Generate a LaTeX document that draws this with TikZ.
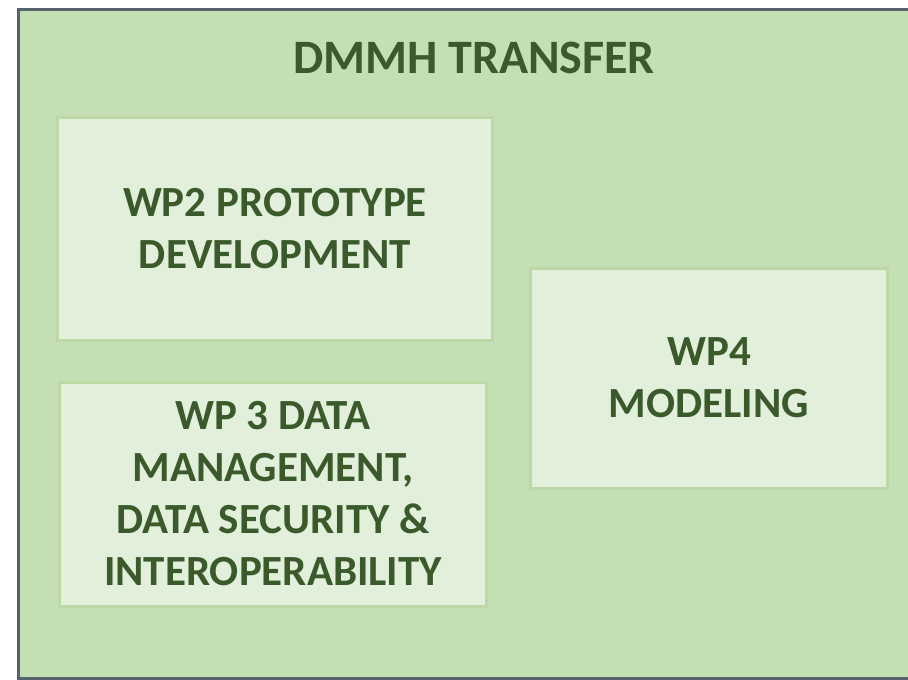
\documentclass[tikz,border=0pt]{standalone}
\usepackage{fontspec}
\setmainfont{Carlito}
\definecolor{outerfill}{HTML}{C5DFB4}
\definecolor{innerfill}{HTML}{E2EFDA}
\definecolor{innerline}{HTML}{BCD8A6}
\definecolor{frameline}{HTML}{56636F}
\definecolor{txt}{HTML}{3B5A2C}
\tikzset{
  wpbox/.style={draw=innerline, line width=3pt, fill=innerfill, inner sep=0pt,
    text=txt, font=\bfseries\fontsize{43}{52}\selectfont, align=center},
}
\begin{document}
\begin{tikzpicture}[x=1pt,y=-1pt]
\useasboundingbox (0,0) rectangle (908,680);
\fill[white] (0,0) rectangle (908,680);
\node[draw=frameline, line width=3pt, fill=outerfill, minimum width=900pt, minimum height=669pt, inner sep=0pt, anchor=north west] (frame) at (17,8) {};
\node[text=txt, font=\bfseries\fontsize{48}{56}\selectfont] (title) at (474,58) {DMMH TRANSFER};
\node[wpbox, minimum width=435pt, minimum height=223pt] (wp2) at (275,229) {WP2 PROTOTYPE\\DEVELOPMENT};
\node[wpbox, minimum width=427pt, minimum height=224pt] (wp3) at (273,494) {WP 3 DATA\\MANAGEMENT,\\DATA SECURITY \&\\INTEROPERABILITY};
\node[wpbox, minimum width=357pt, minimum height=220pt] (wp4) at (709,378) {WP4\\MODELING};
\end{tikzpicture}
\end{document}
